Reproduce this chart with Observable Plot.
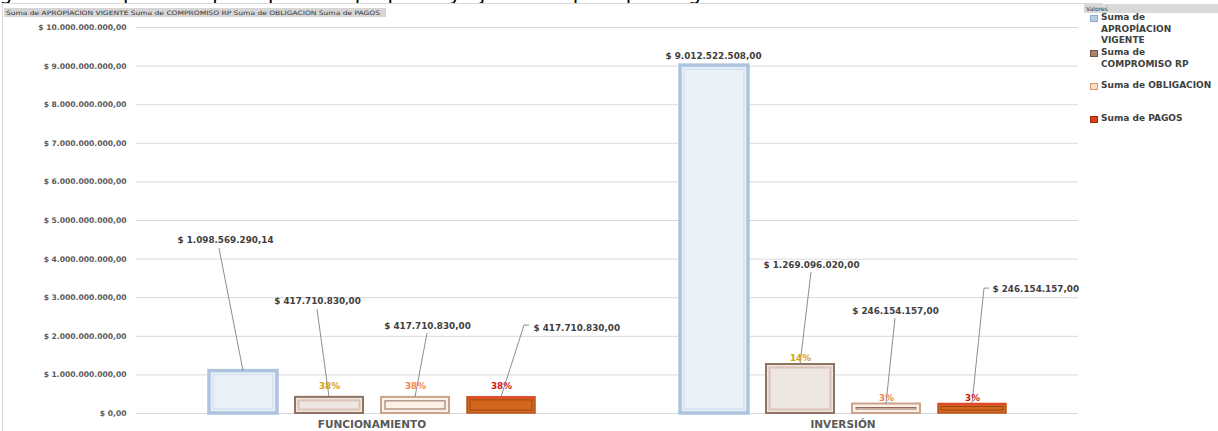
<!DOCTYPE html>
<html><head><meta charset="utf-8">
<script src="https://cdn.jsdelivr.net/npm/d3@7"></script>
<script src="https://cdn.jsdelivr.net/npm/@observablehq/plot@0.6"></script>
<style>
body{margin:0;background:#fff;overflow:hidden;font-family:"DejaVu Sans",sans-serif;}
#wrap{position:relative;width:1218px;height:431px;overflow:hidden;background:#fff;}
.abs{position:absolute;}
#frame{left:2px;top:3px;width:1100px;height:440px;border-left:1px solid #d9d9d9;border-top:1px solid #d9d9d9;box-sizing:border-box;}
#legend .t{position:absolute;left:18px;font-weight:bold;font-size:9px;color:#404040;line-height:11.5px;white-space:nowrap;}
#legend .sw{position:absolute;left:7px;width:8px;height:7px;box-sizing:border-box;}
</style></head><body>
<div id="wrap">
  <svg class="abs" style="left:0;top:0" width="1218" height="8"><text x="-16" y="0" font-size="20" font-family="DejaVu Sans" fill="#000">Figura 2. Comparativo presupuesto apropiado y ejecutado por tipo de gasto</text></svg>
  <div id="frame" class="abs"></div>
  <div id="chart" class="abs" style="left:0;top:0"></div>
  <svg class="abs" style="left:4px;top:8px" width="384" height="10">
    <rect x="0" y="0" width="382" height="9" fill="#d6d6d6"/>
    <text x="2" y="7" font-size="6" font-family="DejaVu Sans" fill="#333" textLength="374" lengthAdjust="spacingAndGlyphs">Suma de APROPÍACION VIGENTE  Suma de COMPROMISO RP  Suma de OBLIGACION  Suma de PAGOS</text>
  </svg>
  <div id="legend" class="abs" style="left:1083px;top:0;width:135px;height:140px;"></div>
</div>
<script>
// ---- data ----
const categories = ["FUNCIONAMIENTO", "INVERSIÓN"];
const seriesNames = ["Suma de APROPÍACION VIGENTE", "Suma de COMPROMISO RP", "Suma de OBLIGACION", "Suma de PAGOS"];
const apropiacion = [1098569290.14, 9012522508.00];
const compromiso  = [417710830.00, 1269096020.00];
const obligacion  = [417710830.00, 246154157.00];
const pagos       = [417710830.00, 246154157.00];
const yTicks = [0, 1e9, 2e9, 3e9, 4e9, 5e9, 6e9, 7e9, 8e9, 9e9, 1e10];
const legendLines = [["Suma de", "APROPÍACION", "VIGENTE"], ["Suma de", "COMPROMISO RP"], ["Suma de OBLIGACION"], ["Suma de PAGOS"]];

// ---- label layout (label centre in value units, pixel offsets) ----
const labelLayout = [
  {ci:0, si:0, ly:4.48e9, tdx:-18, anchor:"middle", ldx:-24, ldy:8},
  {ci:0, si:1, ly:2.90e9, tdx:-12, anchor:"middle", ldx:-12, ldy:8},
  {ci:0, si:2, ly:2.25e9, tdx:12,  anchor:"middle", ldx:12,  ldy:7},
  {ci:0, si:3, ly:2.20e9, tdx:32,  anchor:"start",  ldx:23,  ldy:-3, kink:5},
  {ci:1, si:0, ly:9.25e9, tdx:-1,  anchor:"middle", ldx:null},
  {ci:1, si:1, ly:3.83e9, tdx:11,  anchor:"middle", ldx:11,  ldy:7},
  {ci:1, si:2, ly:2.64e9, tdx:9,   anchor:"middle", ldx:9,   ldy:7},
  {ci:1, si:3, ly:3.21e9, tdx:20,  anchor:"start",  ldx:12,  ldy:-1, kink:5}
];
const pctDy = [-11, -6];

// ---- styles ----
const fills  = ["#eaf0f8", "#eee7e1", "#fdf0e6", "#d2661d"];
const outers = ["#adc3de", "#8f7261", "#c9a48c", "#b85418"];
const outerW = [3.5, 2, 2, 1.5];
const inners = ["#d6e2f0", "#d8c3b6", "#8e6c5c", "#9a4612"];
const innerW = [1.5, 2, 1, 1];
const innerInset = [4, 3.5, 4, 3];
const pctColors = ["#000", "#d4a017", "#f2844c", "#d01818"];
const swFill = ["#b8cce4", "#a58674", "#fbe1cd", "#d8431c"];
const swBorder = ["#8eaad0", "#6f5242", "#d8946a", "#a02808"];

const series = [apropiacion, compromiso, obligacion, pagos];
const rows = [];
categories.forEach((cat, ci) => seriesNames.forEach((s, si) => rows.push({cat, ci, series: s, si, value: series[si][ci]})));

const loc = d3.formatLocale({decimal: ",", thousands: ".", grouping: [3], currency: ["$ ", ""]});
const money = loc.format("$,.2f");

const labels = labelLayout.map(l => ({...l, cat: categories[l.ci], series: seriesNames[l.si], value: series[l.si][l.ci]}));
const leaders = labels.filter(l => l.ldx != null);

const valueTextMarks = labels.map(l => Plot.text([l], {
  fx: "cat", x: "series", y: "ly", text: d => money(d.value), dx: l.tdx, textAnchor: l.anchor,
  fontSize: 8.8, fontWeight: "bold", fill: "#404040"
}));

const pctMarks = categories.map((cat, ci) => Plot.text(rows.filter(d => d.ci === ci && d.si > 0), {
  fx: "cat", x: "series", y: "value",
  text: d => Math.round(d.value / apropiacion[d.ci] * 100) + "%",
  fill: d => pctColors[d.si], dy: pctDy[ci], fontSize: 8.8, fontWeight: "bold"
}));

const leaderMark = Plot.link(leaders, {
  fx: "cat", x1: "series", x2: "series", y1: "value", y2: "ly",
  render(index, scales) {
    const g = d3.create("svg:g").attr("fill", "none").attr("stroke", "#808080").attr("stroke-width", 0.9);
    const half = scales.x.bandwidth ? scales.x.bandwidth() / 2 : 0;
    for (const i of index) {
      const d = leaders[i];
      const xb = scales.x(d.series) + half, yb = scales.y(d.value);
      const xt = xb + d.ldx, yt = scales.y(d.ly) + d.ldy;
      let p = `M${xb},${yb}L${xt},${yt}`;
      if (d.kink) p += `L${xt + d.kink},${yt}`;
      g.append("path").attr("d", p);
    }
    return g.node();
  }
});

const barMarks = [0, 1, 2, 3].flatMap(si => {
  const data = rows.filter(d => d.si === si);
  return [
    Plot.barY(data, {fx: "cat", x: "series", y: "value", fill: fills[si], stroke: outers[si], strokeWidth: outerW[si]}),
    Plot.barY(data, {fx: "cat", x: "series", y: "value", fill: "none", stroke: inners[si], strokeWidth: innerW[si], inset: innerInset[si]})
  ];
});

const chart = Plot.plot({
  width: 1080, height: 431,
  marginTop: 27, marginBottom: 18, marginLeft: 136, marginRight: 2,
  style: {fontFamily: "DejaVu Sans", background: "transparent"},
  fx: {domain: categories, padding: 0, label: null},
  x: {domain: seriesNames, paddingInner: 0.21, paddingOuter: 0.84, axis: null},
  y: {domain: [0, 1e10]},
  marks: [
    Plot.gridY(yTicks, {stroke: "#d9d9d9", strokeOpacity: 1}),
    Plot.axisY({ticks: yTicks, tickFormat: money, tickSize: 0, tickPadding: 10, fontSize: 7.6, fontWeight: "bold", fill: "#595959", label: null}),
    Plot.axisFx({anchor: "bottom", tickSize: 0, tickPadding: 7, fontSize: 10.5, fontWeight: "bold", fill: "#595959", label: null}),
    ...barMarks,
    Plot.tickY(rows.filter(d => d.si === 3), {fx: "cat", x: "series", y: "value", stroke: "#e8452e", strokeWidth: 2}),
    leaderMark,
    ...pctMarks,
    ...valueTextMarks
  ]
});
document.getElementById("chart").appendChild(chart);

// ---- legend ----
const legend = document.getElementById("legend");
const head = document.createElement("div");
head.style.cssText = "position:absolute;left:1px;top:4px;width:134px;height:9px;background:#d9d9d9;font-size:6px;line-height:9px;color:#333;padding-left:2px;box-sizing:border-box;";
head.textContent = "Valores";
legend.appendChild(head);
const itemTop = [15, 50, 83, 116];
legendLines.forEach((lines, si) => {
  const sw = document.createElement("div");
  sw.className = "sw";
  sw.style.top = itemTop[si] + "px";
  sw.style.background = swFill[si];
  sw.style.border = "1px solid " + swBorder[si];
  legend.appendChild(sw);
  lines.forEach((txt, k) => {
    const t = document.createElement("div");
    t.className = "t";
    t.style.top = (itemTop[si] - 3 + k * 11.5) + "px";
    t.textContent = txt;
    legend.appendChild(t);
  });
});
</script>
</body></html>
